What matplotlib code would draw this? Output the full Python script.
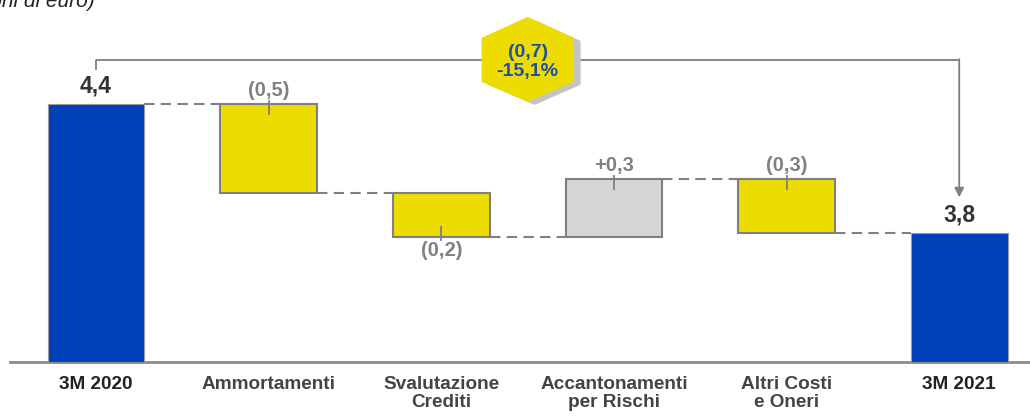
import matplotlib.pyplot as plt
import matplotlib.transforms as mtransforms
from matplotlib.patches import Polygon

plt.rcParams['font.family'] = ['Liberation Sans', 'DejaVu Sans']

# dati (milioni di euro)
categorie = ['3M 2020', 'Ammortamenti', 'Svalutazione\nCrediti',
             'Accantonamenti\nper Rischi', 'Altri Costi\ne Oneri', '3M 2021']
valore_iniziale = 4.44
variazioni = [-0.464, -0.227, 0.30, -0.279]
valore_finale = 3.77

BLU = '#0040b8'
GIALLO = '#ecdc00'
GRIGIO_BARRA = '#d6d6d6'
GRIGIO = '#808080'


def fmt(v):
    return f"{abs(v):.1f}".replace('.', ',')


fig = plt.figure(figsize=(10.3, 4.16), dpi=100)
ax = fig.add_axes([10 / 1030, 54 / 416, 1020 / 1030, 362 / 416])
base = 3.10
ax.set_xlim(-0.498, 5.41)
ax.set_ylim(base, 4.98)
w = 0.56

# barre totali
ax.bar(0, valore_iniziale - base, bottom=base, width=w, color=BLU, edgecolor='#9a9a9a', lw=0.8, zorder=3)
ax.bar(5, valore_finale - base, bottom=base, width=w, color=BLU, edgecolor='#9a9a9a', lw=0.8, zorder=3)
ax.annotate(fmt(valore_iniziale), (0, valore_iniziale), xytext=(0, 5), textcoords='offset points',
            ha='center', va='bottom', fontsize=16.5, fontweight='bold', color='#333333')
ax.annotate(fmt(valore_finale), (5, valore_finale), xytext=(0, 5), textcoords='offset points',
            ha='center', va='bottom', fontsize=16.5, fontweight='bold', color='#333333')

# barre fluttuanti
livello = valore_iniziale
livelli = [livello]
for i, d in enumerate(variazioni, start=1):
    col = GRIGIO_BARRA if d > 0 else GIALLO
    ax.bar(i, abs(d), bottom=min(livello, livello + d), width=w, color=col,
           edgecolor=GRIGIO, lw=1.5, zorder=3)
    if d < 0 and i == 2:
        # etichetta sotto la barra
        bordo = livello + d
        ax.plot([i, i], [bordo - 0.016, bordo + 0.052], color=GRIGIO, lw=1.3, zorder=4)
        ax.annotate(f"({fmt(d)})", (i, bordo), xytext=(0, -2.5), textcoords='offset points',
                    ha='center', va='top', fontsize=14.5, fontweight='bold', color=GRIGIO)
    else:
        bordo = max(livello, livello + d)
        ax.plot([i, i], [bordo + 0.016, bordo - 0.052], color=GRIGIO, lw=1.3, zorder=4)
        testo = f"+{fmt(d)}" if d > 0 else f"({fmt(d)})"
        ax.annotate(testo, (i, bordo), xytext=(0, 3), textcoords='offset points',
                    ha='center', va='bottom', fontsize=14.5, fontweight='bold', color=GRIGIO)
    livello += d
    livelli.append(livello)

# connettori tratteggiati
for i, lv in enumerate(livelli):
    ax.hlines(lv, i + w / 2, i + 1 - w / 2, colors=GRIGIO, linestyles=(0, (5, 3)), lw=1.5, zorder=2)

# parentesi con freccia
y_top = 4.669
ax.plot([0, 0, 5], [4.622, y_top, y_top], color=GRIGIO, lw=1.3, zorder=2)
ax.annotate('', xy=(5, valore_finale + 0.185), xytext=(5, y_top + 0.004),
            arrowprops=dict(arrowstyle='-|>', color=GRIGIO, lw=1.3, mutation_scale=14,
                            shrinkA=0, shrinkB=0), zorder=2)

# esagono
tot = valore_finale - valore_iniziale
pct = tot / valore_iniziale * 100
trans = fig.dpi_scale_trans + mtransforms.ScaledTranslation(2.5, y_top, ax.transData)
hx = [(0, 0.43), (0.46, 0.22), (0.46, -0.22), (0, -0.42), (-0.46, -0.22), (-0.46, 0.22)]
ombra = [(x + 0.07, y - 0.03) for x, y in hx]
ax.add_patch(Polygon(ombra, closed=True, transform=trans, facecolor='#c4c4c4', edgecolor='none', zorder=5, clip_on=False))
ax.add_patch(Polygon(hx, closed=True, transform=trans, facecolor=GIALLO, edgecolor='none', zorder=6, clip_on=False))
ax.text(2.5, y_top, f"({fmt(tot)})\n{pct:.1f}%".replace('.', ','), ha='center', va='center',
        transform=mtransforms.offset_copy(ax.transData, fig=fig, x=0, y=-2, units='dots'),
        fontsize=14, fontweight='bold', color='#1f4f9e', linespacing=1.2, zorder=7)

# assi
ax.set_xticks(range(len(categorie)))
ax.set_xticklabels(categorie, fontsize=13.7, fontweight='bold', color='#444444', linespacing=1.1)
for lab in (ax.get_xticklabels()[0], ax.get_xticklabels()[-1]):
    lab.set_color('#222222')
ax.tick_params(axis='x', length=0, pad=10)
ax.set_yticks([])
for s in ['top', 'left', 'right']:
    ax.spines[s].set_visible(False)
ax.spines['bottom'].set_color('#8a8a8a')
ax.spines['bottom'].set_linewidth(2)

fig.text(95 / 1030, 1 - 7 / 416, '(milioni di euro)', ha='right', va='baseline',
         fontsize=15, style='italic', color='#222222')

fig.savefig('out.png', dpi=100)
